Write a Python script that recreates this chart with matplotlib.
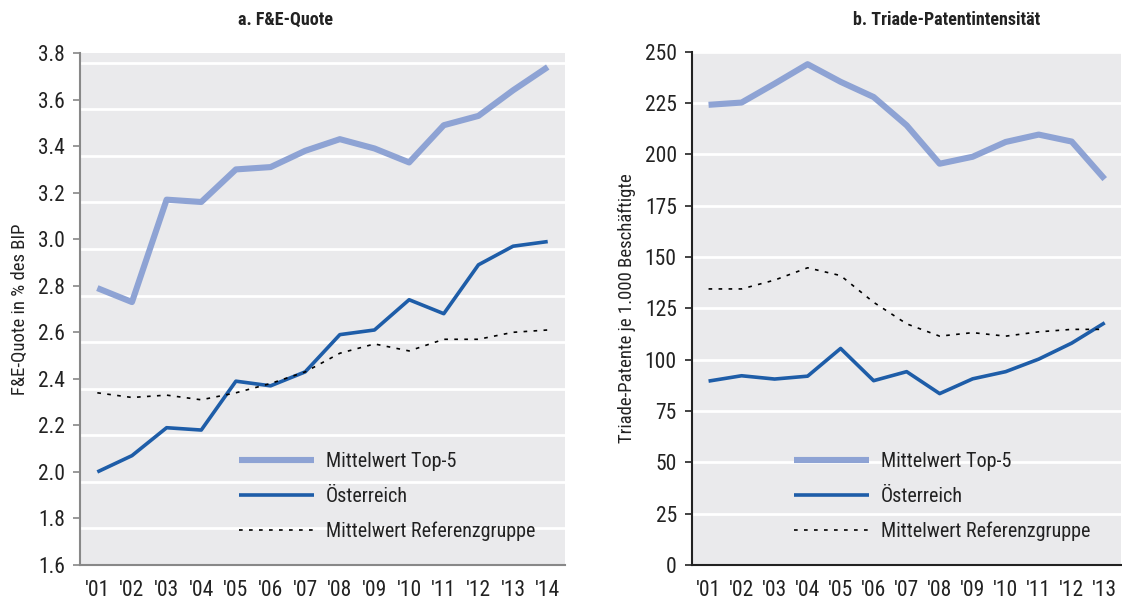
import os
import matplotlib
matplotlib.use('Agg')
import matplotlib.pyplot as plt
from matplotlib import font_manager as fm

years_a = ["'01", "'02", "'03", "'04", "'05", "'06", "'07", "'08", "'09", "'10", "'11", "'12", "'13", "'14"]
top5_a = [2.79, 2.73, 3.17, 3.16, 3.30, 3.31, 3.38, 3.43, 3.39, 3.33, 3.49, 3.53, 3.64, 3.74]
at_a = [2.00, 2.07, 2.19, 2.18, 2.39, 2.37, 2.43, 2.59, 2.61, 2.74, 2.68, 2.89, 2.97, 2.99]
ref_a = [2.34, 2.32, 2.33, 2.31, 2.34, 2.38, 2.43, 2.51, 2.55, 2.52, 2.57, 2.57, 2.60, 2.61]
yticks_a = [1.6, 1.8, 2.0, 2.2, 2.4, 2.6, 2.8, 3.0, 3.2, 3.4, 3.6, 3.8]

years_b = ["'01", "'02", "'03", "'04", "'05", "'06", "'07", "'08", "'09", "'10", "'11", "'12", "'13"]
top5_b = [224.2, 225.3, 234.5, 244.0, 235.4, 228.0, 214.2, 195.5, 198.9, 206.1, 209.7, 206.3, 188.0]
at_b = [89.6, 92.2, 90.6, 92.0, 105.5, 89.8, 94.2, 83.5, 90.7, 94.2, 100.3, 108.1, 118.0]
ref_b = [134.5, 134.5, 138.8, 144.8, 141.0, 128.0, 117.5, 111.5, 113.2, 111.5, 113.6, 114.8, 114.8]
yticks_b = [0, 25, 50, 75, 100, 125, 150, 175, 200, 225, 250]

labels = ['Mittelwert Top-5', 'Österreich', 'Mittelwert Referenzgruppe']
c_top5 = '#8ea3d4'
c_at = '#1e5da8'
bg = '#eaeaec'

# look for a narrow font, the original uses a condensed face
fam = None
stretch = 'normal'
for f in fm.fontManager.ttflist:
    if f.name in ('Liberation Sans Narrow', 'Roboto Condensed', 'Open Sans Condensed'):
        fam = f.name
        break
if fam is None:
    for f in fm.fontManager.ttflist:
        if f.name == 'DejaVu Sans' and 'Condensed' in os.path.basename(f.fname) \
                and 'Bold' not in os.path.basename(f.fname) and 'Oblique' not in os.path.basename(f.fname):
            fam = 'DejaVu Sans'
            stretch = 'condensed'
            break

if fam is None:
    plt.rcParams['font.family'] = ['DejaVu Sans']
    fs = 12.5
else:
    plt.rcParams['font.family'] = [fam, 'DejaVu Sans']
    plt.rcParams['font.stretch'] = stretch
    fs = 14.5 if fam != 'DejaVu Sans' else 13.5

fig = plt.figure(figsize=(11.22, 6.03), dpi=100)
ax1 = fig.add_axes([0.0713, 0.063, 0.4323, 0.849])
ax2 = fig.add_axes([0.6168, 0.063, 0.3825, 0.851])


def draw(ax, years, top5, at, ref, yticks, grid_shift, spine_col, ylabel, leg_x):
    x = list(range(len(years)))
    ax.set_facecolor(bg)
    for t in yticks[1:]:
        ax.axhline(t - grid_shift, color='white', lw=2, zorder=1)
    ax.plot(x, top5, color=c_top5, lw=4.4, solid_capstyle='butt', label=labels[0], zorder=3)
    ax.plot(x, at, color=c_at, lw=2.6, solid_capstyle='butt', label=labels[1], zorder=4)
    ax.plot(x, ref, color='black', lw=1.2, linestyle=(0, (2.2, 3.8)), label=labels[2], zorder=5)
    ax.set_xlim(-0.5, len(years) - 0.5)
    ax.set_ylim(yticks[0], yticks[-1])
    ax.set_yticks(yticks)
    ax.set_xticks(x)
    ax.set_xticklabels(years)
    for s in ['top', 'right']:
        ax.spines[s].set_visible(False)
    for s in ['left', 'bottom']:
        ax.spines[s].set_color(spine_col)
        ax.spines[s].set_linewidth(1.5)
    ax.tick_params(axis='x', length=0, pad=11, labelsize=fs + 1, colors='#222222')
    ax.tick_params(axis='y', length=5, width=1.2, color=spine_col, pad=6, labelsize=fs + 1, labelcolor='#222222')
    ax.set_ylabel(ylabel, fontsize=fs - 1, color='#222222', labelpad=6)
    leg = ax.legend(loc='center left', bbox_to_anchor=(leg_x, 0.133), frameon=False,
                    fontsize=fs, handlelength=3.7, handletextpad=0.6, labelspacing=0.78,
                    borderpad=0, borderaxespad=0)
    for t in leg.get_texts():
        t.set_color('#222222')


draw(ax1, years_a, top5_a, at_a, ref_a, yticks_a, 0.042, '#888888',
     'F&E-Quote in % des BIP', 0.328)
draw(ax2, years_b, top5_b, at_b, ref_b, yticks_b, 0, '#222222',
     'Triade-Patente je 1.000 Beschäftigte', 0.238)

fig.text(286 / 1122, 1 - 20 / 603, 'a. F&E-Quote', ha='center', va='center',
         fontsize=fs - 1.5, fontweight='bold', color='#222222')
fig.text(947 / 1122, 1 - 20 / 603, 'b. Triade-Patentintensität', ha='center', va='center',
         fontsize=fs - 1.5, fontweight='bold', color='#222222')

fig.savefig('out.png', dpi=100)
